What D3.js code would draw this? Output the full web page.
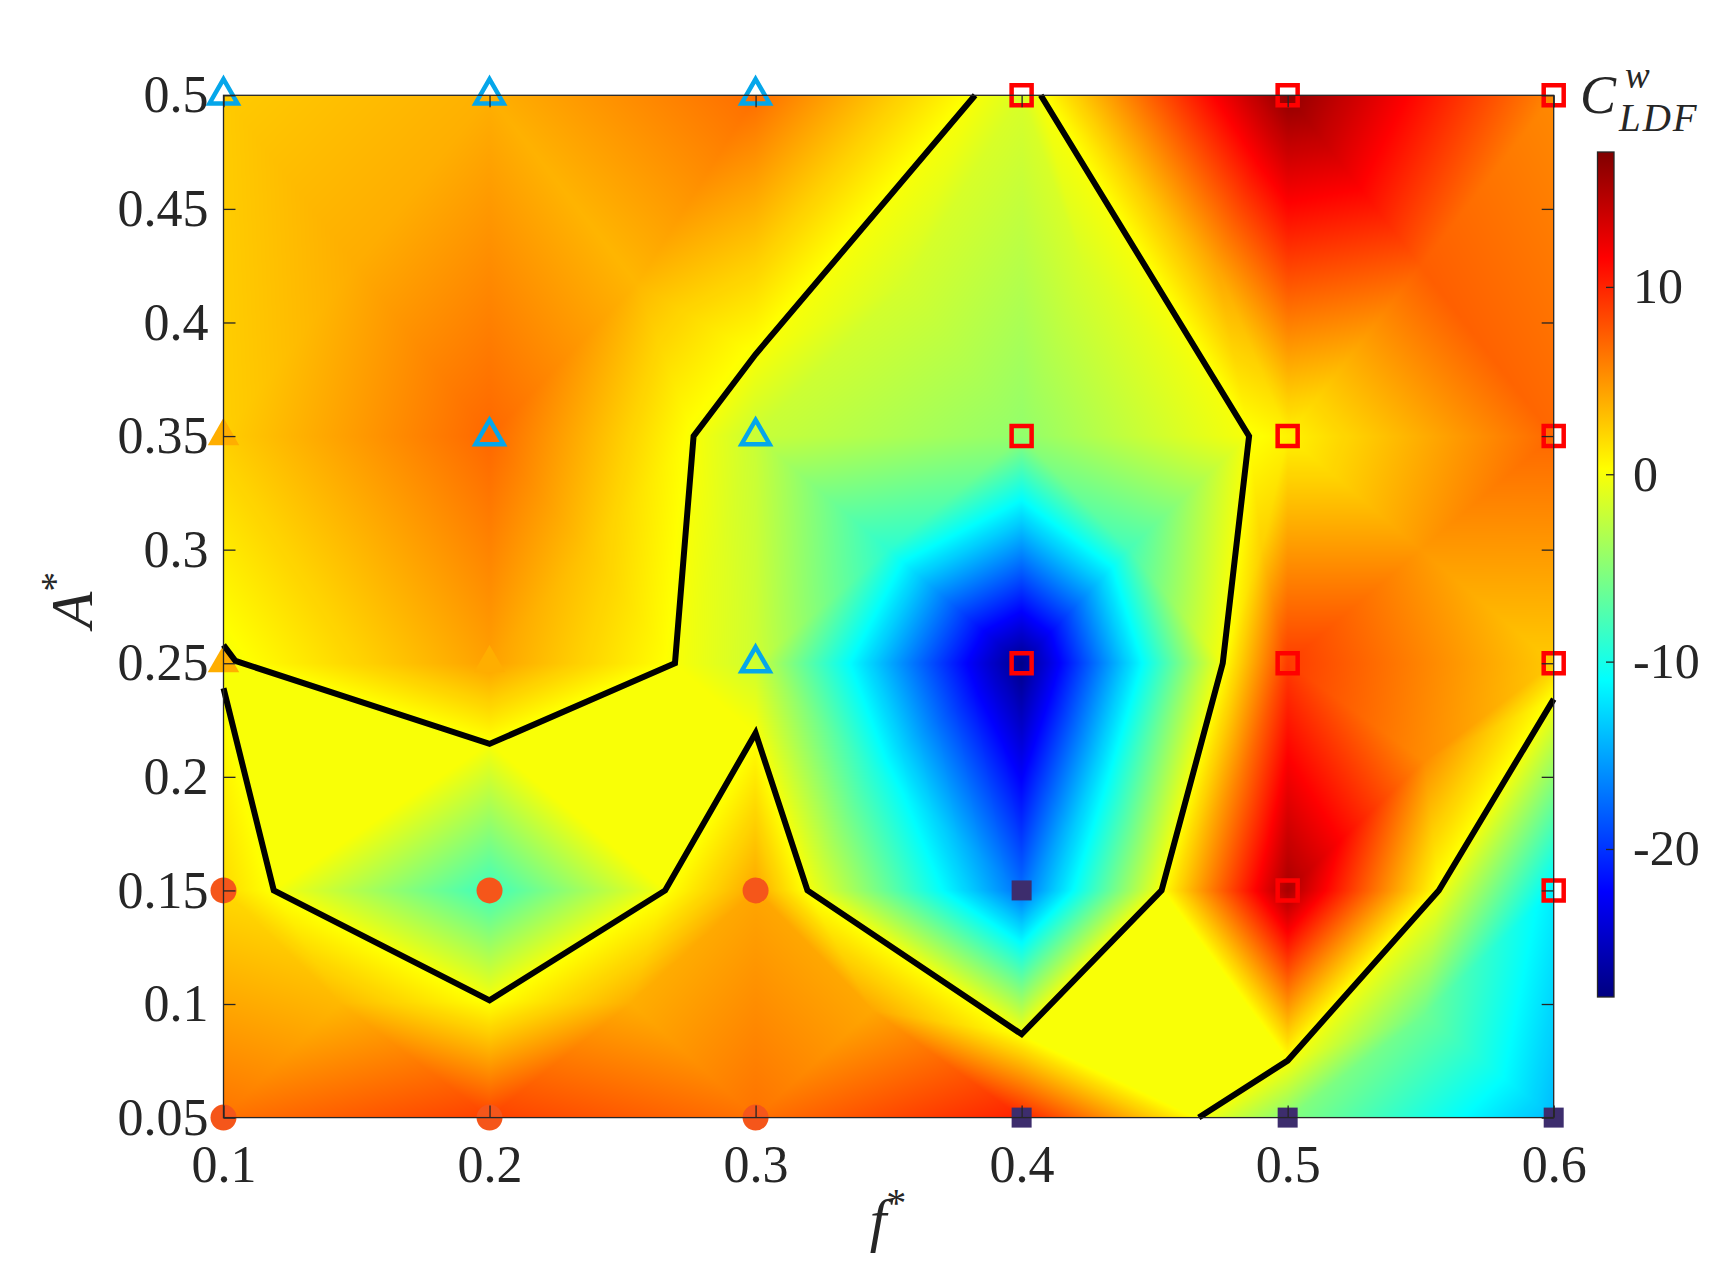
<!DOCTYPE html>
<html>
<head>
<meta charset="utf-8">
<script src="https://cdn.jsdelivr.net/npm/d3@7"></script>
<style>
  body { margin: 0; background: #fff; }
  svg text { font-family: "Liberation Serif", "Times New Roman", serif; fill: #262626; }
</style>
</head>
<body>
<svg id="chart" width="1718" height="1263"></svg>
<script>
// grid of the measurements
const fGrid = [0.1, 0.2, 0.3, 0.4, 0.5, 0.6];
const aGrid = [0.05, 0.15, 0.25, 0.35, 0.5];

// C_LDF^w at the nodes, one row per A*
const cRow005 = [6.5, 8.7, 6.5, 10.1, -5.1, -14.0];
const cRow015 = [1.9, -8.2, 4.2, -17.4, 15.4, -11.7];
const cRow025 = [-0.21, 4.5, -1.9, -27.5, 8.9, 2.6];
const cRow035 = [2.44, 7.0, -2.13, -4.5, 0.76, 7.0];
const cRow050 = [2.6, 3.8, 6.74, -1.4, 16.5, 5.5];
const cRows = [cRow005, cRow015, cRow025, cRow035, cRow050];

// zero lines, [f*, A*]
const zeroLine1 = [[0.1, 0.258], [0.1045, 0.251], [0.2, 0.2145], [0.2697, 0.25], [0.2767, 0.35], [0.3, 0.386], [0.3825, 0.5]];
const zeroLine2 = [[0.4072, 0.5], [0.4855, 0.35], [0.4756, 0.25], [0.4526, 0.15], [0.4, 0.0867], [0.3195, 0.15],
                   [0.3, 0.2193], [0.266, 0.15], [0.2, 0.1016], [0.1189, 0.15], [0.1, 0.239]];
const zeroLine3 = [[0.4666, 0.05], [0.5, 0.0751], [0.5568, 0.15], [0.6, 0.2342]];
const zeroLines = [zeroLine1, zeroLine2, zeroLine3];

// regime markers
const blueTri = [[0.1, 0.5], [0.2, 0.5], [0.3, 0.5], [0.2, 0.35], [0.3, 0.35], [0.3, 0.25]];
const orangeTri = [[0.1, 0.35], [0.1, 0.25], [0.2, 0.25]];
const dots = [[0.1, 0.15], [0.2, 0.15], [0.3, 0.15], [0.1, 0.05], [0.2, 0.05], [0.3, 0.05]];
const navySq = [[0.4, 0.15], [0.4, 0.05], [0.5, 0.05], [0.6, 0.05]];
const redSq = [[0.4, 0.5], [0.5, 0.5], [0.6, 0.5], [0.4, 0.35], [0.5, 0.35], [0.6, 0.35],
               [0.4, 0.25], [0.5, 0.25], [0.6, 0.25], [0.5, 0.15], [0.6, 0.15]];

const xTicks = [0.1, 0.2, 0.3, 0.4, 0.5, 0.6];
const xTickLabels = ["0.1", "0.2", "0.3", "0.4", "0.5", "0.6"];
const yTicks = [0.05, 0.1, 0.15, 0.2, 0.25, 0.3, 0.35, 0.4, 0.45, 0.5];
const yTickLabels = ["0.05", "0.1", "0.15", "0.2", "0.25", "0.3", "0.35", "0.4", "0.45", "0.5"];
const cTicks = [10, 0, -10, -20];
const cTickLabels = ["10", "0", "-10", "-20"];
const cRange = [-27.9, 17.2];

const svg = d3.select("#chart");

const x = d3.scaleLinear().domain([0.1, 0.6]).range([223.5, 1553.7]);
const y = d3.scaleLinear().domain([0.05, 0.5]).range([1117.6, 95.3]);

// jet colormap
const jetStops = [0, 1 / 8, 3 / 8, 5 / 8, 7 / 8, 1];
const jetColors = ["#000080", "#0000ff", "#00ffff", "#ffff00", "#ff0000", "#800000"];
const span = cRange[1] - cRange[0];
const color = d3.scaleLinear()
  .domain(jetStops.map(t => cRange[0] + t * span))
  .range(jetColors)
  .clamp(true);

// ---- mesh: each grid cell is cut along the zero lines, every piece is
// fanned from its centre (value = mean of its vertices) ----
function cellPieces(i, j) {
  const f0 = fGrid[i], f1 = fGrid[i + 1], a0 = aGrid[j], a1 = aGrid[j + 1];
  const tol = 0.0015;
  const ring = [
    { f: f0, a: a0, v: cRows[j][i], s: 0 },
    { f: f1, a: a0, v: cRows[j][i + 1], s: 1 },
    { f: f1, a: a1, v: cRows[j + 1][i + 1], s: 2 },
    { f: f0, a: a1, v: cRows[j + 1][i], s: 3 }
  ];
  ring.forEach(p => p.corner = true);
  const byKey = {};
  zeroLines.forEach((l, li) => l.forEach(([f, a], k) => {
    let p = null;
    if (Math.abs(a - a0) < tol && f > f0 && f < f1) p = { f, a: a0, s: (f - f0) / (f1 - f0) };
    else if (Math.abs(f - f1) < tol && a > a0 && a < a1) p = { f: f1, a, s: 1 + (a - a0) / (a1 - a0) };
    else if (Math.abs(a - a1) < tol && f > f0 && f < f1) p = { f, a: a1, s: 2 + (f1 - f) / (f1 - f0) };
    else if (Math.abs(f - f0) < tol && a > a0 && a < a1) p = { f: f0, a, s: 3 + (a1 - a) / (a1 - a0) };
    if (p) { p.v = 0; byKey[li + "-" + k] = p; ring.push(p); }
  }));
  ring.sort((p, q) => p.s - q.s);

  // cuts: zero-line segments through the cell, and corners boxed in by two crossings
  const cuts = [];
  zeroLines.forEach((l, li) => {
    for (let k = 0; k < l.length - 1; k++) {
      const p = byKey[li + "-" + k], q = byKey[li + "-" + (k + 1)];
      if (p && q) cuts.push([p, q]);
    }
  });
  const n = ring.length;
  ring.forEach((p, k) => {
    if (!p.corner) return;
    const prev = ring[(k - 1 + n) % n], next = ring[(k + 1) % n];
    if (!prev.corner && !next.corner) cuts.push([prev, next]);
  });

  let polys = [ring];
  cuts.forEach(([p, q]) => {
    const idx = polys.findIndex(poly => poly.includes(p) && poly.includes(q));
    if (idx < 0) return;
    const poly = polys[idx];
    let ip = poly.indexOf(p), iq = poly.indexOf(q);
    if (ip > iq) [ip, iq] = [iq, ip];
    if (iq - ip === 1 || (ip === 0 && iq === poly.length - 1)) return;
    const one = poly.slice(ip, iq + 1);
    const two = poly.slice(iq).concat(poly.slice(0, ip + 1));
    polys.splice(idx, 1, one, two);
  });

  const tris = [];
  polys.forEach(poly => {
    if (poly.length === 3) { tris.push(poly); return; }
    const c = { f: d3.mean(poly, p => p.f), a: d3.mean(poly, p => p.a), v: d3.mean(poly, p => p.v) };
    poly.forEach((p, k) => tris.push([c, p, poly[(k + 1) % poly.length]]));
  });
  return tris;
}

// ---- rasterise the field ----
const x0 = x(0.1), y0 = y(0.5);
const W = Math.round(x(0.6) - x0), H = Math.round(y(0.05) - y0);
const lut = d3.range(1024).map(k => d3.rgb(color(cRange[0] + k / 1023 * span)));

const canvas = document.createElement("canvas");
canvas.width = W; canvas.height = H;
const ctx = canvas.getContext("2d");
const img = ctx.createImageData(W, H);

function fillTri(tri) {
  const [ax, ay, va] = [x(tri[0].f) - x0, y(tri[0].a) - y0, tri[0].v];
  const [bx, by, vb] = [x(tri[1].f) - x0, y(tri[1].a) - y0, tri[1].v];
  const [cx, cy, vc] = [x(tri[2].f) - x0, y(tri[2].a) - y0, tri[2].v];
  const det = (by - cy) * (ax - cx) + (cx - bx) * (ay - cy);
  if (Math.abs(det) < 1e-9) return;
  const minX = Math.max(0, Math.floor(Math.min(ax, bx, cx)) - 1);
  const maxX = Math.min(W - 1, Math.ceil(Math.max(ax, bx, cx)) + 1);
  const minY = Math.max(0, Math.floor(Math.min(ay, by, cy)) - 1);
  const maxY = Math.min(H - 1, Math.ceil(Math.max(ay, by, cy)) + 1);
  for (let j = minY; j <= maxY; j++) {
    const sy = j + 0.5;
    for (let i = minX; i <= maxX; i++) {
      const sx = i + 0.5;
      const l1 = ((by - cy) * (sx - cx) + (cx - bx) * (sy - cy)) / det;
      const l2 = ((cy - ay) * (sx - cx) + (ax - cx) * (sy - cy)) / det;
      const l3 = 1 - l1 - l2;
      if (l1 < -1e-6 || l2 < -1e-6 || l3 < -1e-6) continue;
      const v = l1 * va + l2 * vb + l3 * vc;
      const k = Math.max(0, Math.min(1023, Math.round((v - cRange[0]) / span * 1023)));
      const col = lut[k], o = (j * W + i) * 4;
      img.data[o] = col.r; img.data[o + 1] = col.g; img.data[o + 2] = col.b; img.data[o + 3] = 255;
    }
  }
}

for (let j = 0; j < aGrid.length - 1; j++) {
  for (let i = 0; i < fGrid.length - 1; i++) cellPieces(i, j).forEach(fillTri);
}
ctx.putImageData(img, 0, 0);

svg.append("image")
  .attr("href", canvas.toDataURL())
  .attr("x", x0).attr("y", y0)
  .attr("width", W).attr("height", H)
  .attr("preserveAspectRatio", "none");

// ---- markers ----
const mk = svg.append("g");
mk.selectAll("path.btri").data(blueTri).enter().append("path")
  .attr("class", "btri")
  .attr("d", d3.symbol(d3.symbolTriangle, 340))
  .attr("transform", d => `translate(${x(d[0])},${y(d[1])})`)
  .attr("fill", "none").attr("stroke", "#05a6ea").attr("stroke-width", 4.5);
mk.selectAll("path.otri").data(orangeTri).enter().append("path")
  .attr("class", "otri")
  .attr("d", d3.symbol(d3.symbolTriangle, 430))
  .attr("transform", d => `translate(${x(d[0])},${y(d[1])})`)
  .attr("fill", "#ffae00");
mk.selectAll("circle").data(dots).enter().append("circle")
  .attr("cx", d => x(d[0])).attr("cy", d => y(d[1])).attr("r", 13)
  .attr("fill", "#f5561a");
mk.selectAll("path.nsq").data(navySq).enter().append("path")
  .attr("class", "nsq")
  .attr("d", d3.symbol(d3.symbolSquare, 400))
  .attr("transform", d => `translate(${x(d[0])},${y(d[1])})`)
  .attr("fill", "#3d2d6d");
mk.selectAll("path.rsq").data(redSq).enter().append("path")
  .attr("class", "rsq")
  .attr("d", d3.symbol(d3.symbolSquare, 400))
  .attr("transform", d => `translate(${x(d[0])},${y(d[1])})`)
  .attr("fill", "none").attr("stroke", "#ff0000").attr("stroke-width", 4.5);

// ---- zero lines ----
const line = d3.line().x(d => x(d[0])).y(d => y(d[1]));
svg.append("g").selectAll("path").data(zeroLines).enter().append("path")
  .attr("d", line)
  .attr("fill", "none").attr("stroke", "#000").attr("stroke-width", 6)
  .attr("stroke-linejoin", "miter");

// ---- axes ----
function styleAxis(g) {
  g.select(".domain").remove();
  g.attr("font-size", 52).attr("font-family", null).attr("color", "#262626");
  g.selectAll(".tick line").attr("stroke-width", 1.3);
}
svg.append("g").attr("transform", `translate(0,${y(0.05)})`)
  .call(d3.axisBottom(x).tickValues(xTicks).tickSize(-12).tickPadding(27).tickFormat((d, i) => xTickLabels[i]))
  .call(styleAxis);
svg.append("g").attr("transform", `translate(0,${y(0.5)})`)
  .call(d3.axisTop(x).tickValues(xTicks).tickSize(-12).tickFormat(""))
  .call(styleAxis);
svg.append("g").attr("transform", `translate(${x(0.1)},0)`)
  .call(d3.axisLeft(y).tickValues(yTicks).tickSize(-12).tickPadding(15).tickFormat((d, i) => yTickLabels[i]))
  .call(styleAxis);
svg.append("g").attr("transform", `translate(${x(0.6)},0)`)
  .call(d3.axisRight(y).tickValues(yTicks).tickSize(-12).tickFormat(""))
  .call(styleAxis);
svg.append("rect")
  .attr("x", x(0.1)).attr("y", y(0.5))
  .attr("width", x(0.6) - x(0.1)).attr("height", y(0.05) - y(0.5))
  .attr("fill", "none").attr("stroke", "#262626").attr("stroke-width", 1.3);

// axis titles
svg.append("text")
  .attr("transform", "translate(92,600) rotate(-90)")
  .attr("text-anchor", "middle").attr("font-size", 60)
  .html('<tspan font-style="italic">A</tspan><tspan font-size="40" dy="-24">*</tspan>');
svg.append("text")
  .attr("x", 888).attr("y", 1240)
  .attr("text-anchor", "middle").attr("font-size", 60)
  .html('<tspan font-style="italic">f</tspan><tspan font-size="40" dy="-24">*</tspan>');

// ---- colorbar ----
const cb = { x: 1597.5, w: 16.5 };
const cScale = d3.scaleLinear().domain(cRange).range([997, 152]);
const grad = svg.append("defs").append("linearGradient")
  .attr("id", "jet").attr("x1", 0).attr("y1", 1).attr("x2", 0).attr("y2", 0);
grad.selectAll("stop").data(jetStops).enter().append("stop")
  .attr("offset", d => d).attr("stop-color", (d, i) => jetColors[i]);
svg.append("rect")
  .attr("x", cb.x).attr("y", cScale(cRange[1]))
  .attr("width", cb.w).attr("height", cScale(cRange[0]) - cScale(cRange[1]))
  .attr("fill", "url(#jet)").attr("stroke", "#262626").attr("stroke-width", 1.3);
svg.append("g").attr("transform", `translate(${cb.x + cb.w},0)`)
  .call(d3.axisRight(cScale).tickValues(cTicks).tickSize(-8).tickPadding(19).tickFormat((d, i) => cTickLabels[i]))
  .call(styleAxis)
  .attr("font-size", 50);

// colorbar title C^w_LDF
svg.append("text").attr("x", 1580).attr("y", 113).attr("font-style", "italic").attr("font-size", 54)
  .html('C<tspan x="1625" y="88" font-size="37">w</tspan><tspan x="1619" y="131" font-size="39" letter-spacing="2">LDF</tspan>');
</script>
</body>
</html>
